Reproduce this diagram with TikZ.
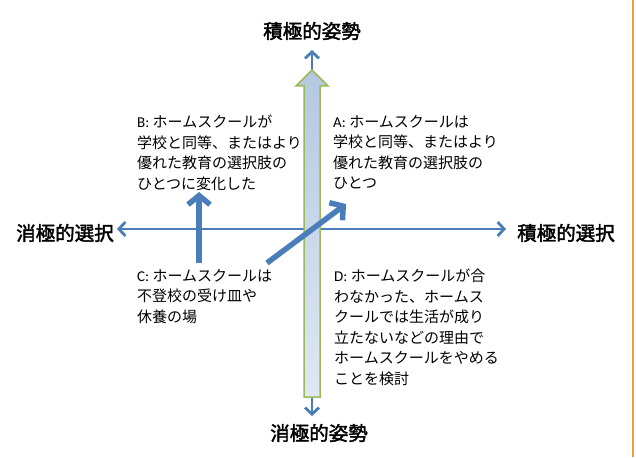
\documentclass[tikz,border=0pt]{standalone}
\usepackage{fontspec}
\newfontfamily\jp{Noto Sans CJK JP}
\newfontfamily\jpb{Noto Sans CJK JP}[FakeBold=2]
\newfontfamily\lat{Carlito}
\usetikzlibrary{arrows.meta}
\definecolor{axblue}{HTML}{4A7EBB}
\definecolor{blockgreen}{HTML}{9BBB59}
\definecolor{blocktop}{HTML}{B4C8E2}
\definecolor{blockbot}{HTML}{DFE8F3}
\definecolor{edgeorange}{HTML}{F79646}
\tikzset{
  axisline/.style={draw=axblue, line width=2.8, arrows={Straight Barb[length=6.5, width=14]-Straight Barb[length=6.5, width=14]}},
  thickarrow/.style={draw=axblue, line width=5.5, -{Straight Barb[length=9, width=22]}},
  axislabel/.style={font=\jpb\fontsize{19.5}{21}\selectfont, inner sep=0, text=black},
  quadtext/.style={font=\jp\fontsize{15}{20.5}\selectfont, anchor=north west, inner sep=0, align=left, text=black},
}
\begin{document}
\begin{tikzpicture}[x=1pt,y=-1pt]
\useasboundingbox (0,0) rectangle (636,457);
\fill[white] (0,0) rectangle (636,457);
% orange right edge
\draw[edgeorange, line width=1.5] (633,0) -- (633,457);
% axis labels
\node[axislabel] (top) at (312,31) {積極的姿勢};
\node[axislabel] (bottom) at (319,433) {消極的姿勢};
\node[axislabel] (left) at (65,233) {消極的選択};
\node[axislabel] (right) at (566,233) {積極的選択};
% axis end points
\coordinate (vt) at (312,50);
\coordinate (vb) at (312,416);
\coordinate (hl) at (117,229);
\coordinate (hr) at (506,229);
\draw[axisline] (vb) -- (vt);
\draw[axisline] (hl) -- (hr);
% block arrow
\path[draw=blockgreen, line width=1.5, top color=blocktop, bottom color=blockbot]
  (312,70) -- (328,86) -- (320,86) -- (320,397) -- (304,397) -- (304,86) -- (296,86) -- cycle;
% quadrant texts
\node[quadtext] (A) at (333,115) {{\lat A:} ホームスクールは\\学校と同等、またはより\\優れた教育の選択肢の\\ひとつ};
\node[quadtext] (B) at (137,115) {{\lat B:} ホームスクールが\\学校と同等、またはより\\優れた教育の選択肢の\\ひとつに変化した};
\node[quadtext] (C) at (137,269) {{\lat C:} ホームスクールは\\不登校の受け皿や\\休養の場};
\node[quadtext] (D) at (334,269) {{\lat D:} ホームスクールが合\\わなかった、ホームス\\クールでは生活が成り\\立たないなどの理由で\\ホームスクールをやめる\\ことを検討};
% thick arrows
\coordinate (bs) at (199,263);
\coordinate (be) at (199,192);
\coordinate (cs) at (267,263);
\coordinate (ce) at (346,204);
\draw[thickarrow] (bs) -- (be);
\draw[thickarrow] (cs) -- (ce);
\end{tikzpicture}
\end{document}
